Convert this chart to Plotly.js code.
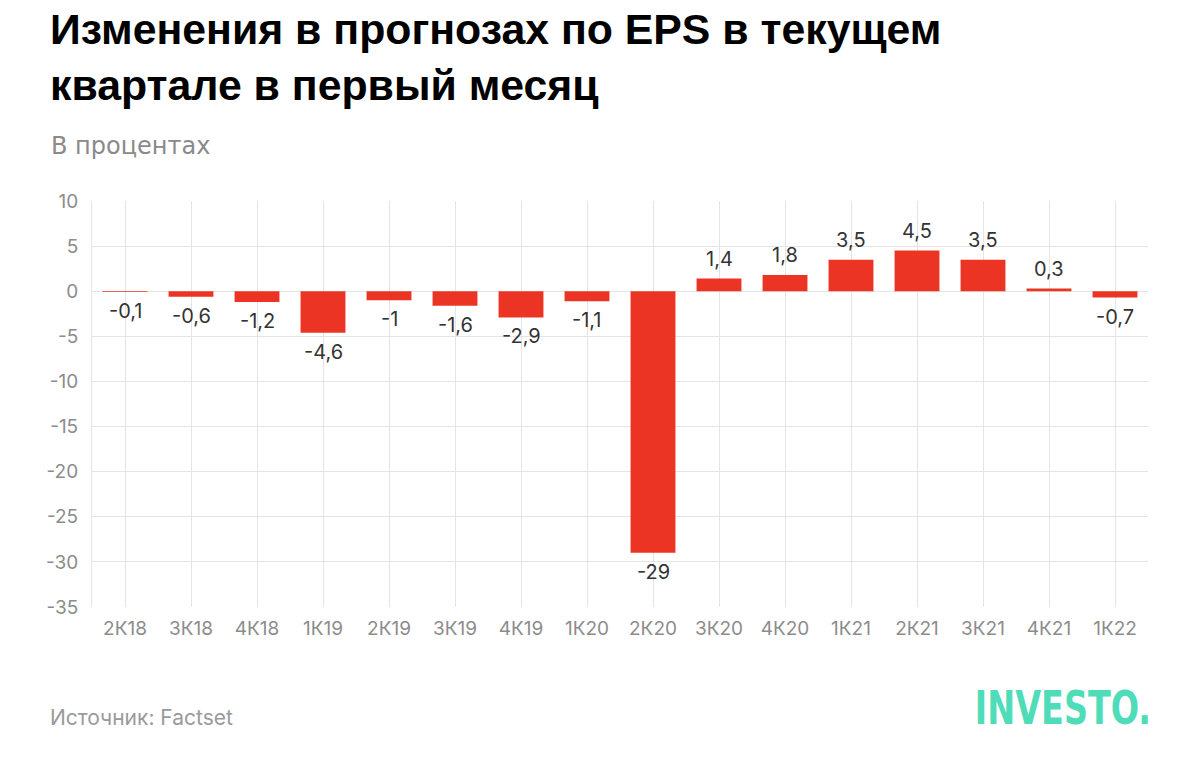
<!DOCTYPE html>
<html>
<head>
<meta charset="utf-8">
<script src="https://cdn.plot.ly/plotly-3.0.1.min.js"></script>
<style>
  html, body { margin: 0; padding: 0; background: #ffffff; }
  #chart { width: 1200px; height: 778px; }
</style>
</head>
<body>
<div id="chart"></div>
<script>
const categories = ["2К18","3К18","4К18","1К19","2К19","3К19","4К19","1К20","2К20","3К20","4К20","1К21","2К21","3К21","4К21","1К22"];
const values = [-0.1, -0.6, -1.2, -4.6, -1, -1.6, -2.9, -1.1, -29, 1.4, 1.8, 3.5, 4.5, 3.5, 0.3, -0.7];
const yTicks = [10, 5, 0, -5, -10, -15, -20, -25, -30, -35];

const titleText = "Изменения в прогнозах по EPS в текущем<br>квартале в первый месяц";
const subtitleText = "В процентах";
const sourceText = "Источник: Factset";
const logoText = "INVESTO.";

const W = 1200, H = 778;
const mL = 92, mR = 52, mT = 201, mB = 171;
const pw = W - mL - mR, ph = H - mT - mB;
const px = x => (x - mL) / pw;
const py = y => (H - mB - y) / ph;

const labelFont = { family: "Inter, Roboto, sans-serif", size: 20, color: "#333333" };

const barLabels = values.map((v, i) => ({
  x: categories[i], y: v, xref: "x", yref: "y",
  text: String(v).replace(".", ","),
  showarrow: false,
  yanchor: v >= 0 ? "bottom" : "top",
  yshift: v >= 0 ? 6 : -5,
  font: labelFont
}));

const textAnnotations = [
  { text: titleText, x: px(48), y: py(3), xref: "paper", yref: "paper", xanchor: "left", yanchor: "top", align: "left", showarrow: false,
    font: { family: "Liberation Sans, Arial, sans-serif", size: 42.8, color: "#000000", weight: 700 } },
  { text: subtitleText, x: px(49), y: py(130), xref: "paper", yref: "paper", xanchor: "left", yanchor: "top", align: "left", showarrow: false,
    font: { family: "DejaVu Sans, sans-serif", size: 24, color: "#8a8a8a" } },
  { text: sourceText, x: px(48), y: py(703), xref: "paper", yref: "paper", xanchor: "left", yanchor: "top", align: "left", showarrow: false,
    font: { family: "Inter, Roboto, sans-serif", size: 21, color: "#9a9a9a" } },
  { text: logoText, x: px(1153), y: py(678), xref: "paper", yref: "paper", xanchor: "right", yanchor: "top", align: "right", showarrow: false,
    font: { family: "DejaVu Sans Condensed, DejaVu Sans, sans-serif", size: 47, color: "#4fdcb9", weight: 700 } }
];

const trace = {
  type: "bar",
  x: categories,
  y: values,
  marker: { color: "#ec3424" },
  hoverinfo: "none"
};

const layout = {
  width: W, height: H,
  margin: { l: mL, r: mR, t: mT, b: mB, pad: 0 },
  paper_bgcolor: "#ffffff",
  plot_bgcolor: "#ffffff",
  showlegend: false,
  bargap: 0.32,
  xaxis: {
    type: "category",
    showgrid: true, gridcolor: "#e4e4e4", gridwidth: 1,
    zeroline: false, showline: false, ticks: "",
    tickfont: { family: "Inter, Roboto, sans-serif", size: 19, color: "#8c8c8c" },
    ticklabelstandoff: 8,
    fixedrange: true
  },
  yaxis: {
    range: [-35, 10],
    tickvals: yTicks,
    ticktext: yTicks.map(String),
    showgrid: true, gridcolor: "#e4e4e4", gridwidth: 1,
    zeroline: false, showline: true, linecolor: "#e4e4e4", linewidth: 1,
    ticks: "",
    tickfont: { family: "Inter, Roboto, sans-serif", size: 19, color: "#8c8c8c" },
    ticklabelstandoff: 9,
    fixedrange: true
  },
  annotations: barLabels.concat(textAnnotations)
};

Plotly.newPlot("chart", [trace], layout, { displayModeBar: false, staticPlot: true }).then(gd => {
  // condense the logo wordmark horizontally (keeps it as real text)
  gd.querySelectorAll("text.annotation-text").forEach(t => {
    if (t.textContent === logoText) {
      t.style.transformBox = "fill-box";
      t.style.transformOrigin = "100% 50%";
      t.style.transform = "scaleX(0.79)";
    }
  });
});
</script>
</body>
</html>
